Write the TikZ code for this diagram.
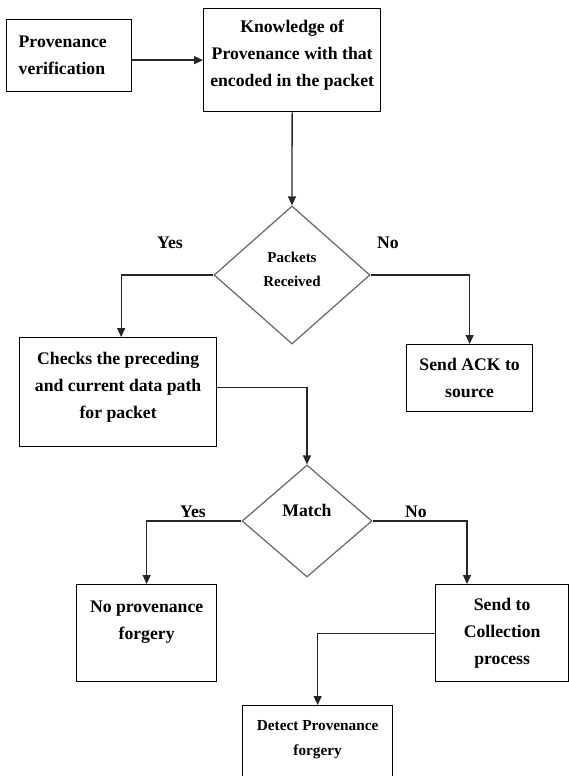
\documentclass[tikz,border=0pt]{standalone}
\usepackage{fontspec}
\setmainfont{Liberation Serif}
\usetikzlibrary{shapes.geometric,arrows.meta}
\tikzset{
  box/.style={draw, line width=1.3pt, inner sep=0pt, align=center, font=\bfseries\fontsize{17.7}{27}\selectfont},
  decision/.style={diamond, draw=black!60, line width=1.2pt, inner sep=0pt, align=center},
  flow/.style={-{Triangle[length=9pt,width=8pt]}, line width=1.3pt, draw=black!85},
  answer/.style={font=\bfseries\fontsize{17.7}{27}\selectfont, inner sep=0pt}
}
\begin{document}
\begin{tikzpicture}[x=1pt,y=-1pt]
\useasboundingbox (0,0) rectangle (569,776);
\clip (0,0) rectangle (569,776);
% boxes and decisions
\node[box, anchor=north west, align=left, text width=101pt, inner xsep=12pt, minimum height=72pt] (verif) at (6,19) {Provenance\\verification};
\node[box, anchor=north west, minimum width=177pt, text height=78pt, text depth=25pt] (know) at (203,8) {Knowledge of\\Provenance with that\\encoded in the packet};
\node[decision, minimum width=156pt, minimum height=138pt, font=\bfseries\fontsize{15}{24}\selectfont, text height=34pt, text depth=11pt] (pkt) at (292,275) {Packets\\Received};
\node[box, anchor=north west, minimum width=197pt, text height=81pt, text depth=28pt] (checks) at (19,337) {Checks the preceding\\and current data path\\for packet};
\node[box, anchor=north west, minimum width=126pt, minimum height=67pt] (ack) at (406,344) {Send ACK to\\source};
\node[decision, minimum width=130pt, minimum height=112pt, font=\bfseries\fontsize{17.7}{27}\selectfont, text height=12pt, text depth=22pt] (match) at (307,521) {Match};
\node[box, anchor=north west, minimum width=140pt, text height=55pt, text depth=42pt] (nof) at (76,584) {No provenance\\forgery};
\node[box, anchor=north west, minimum width=133pt, minimum height=97pt] (coll) at (435,584) {Send to\\Collection\\process};
\node[box, anchor=north west, minimum width=150pt, text height=50pt, text depth=35pt, font=\bfseries\fontsize{15.3}{25}\selectfont] (detect) at (242,705) {Detect Provenance\\forgery};
% answers
\node[answer] (yes1) at (170,243) {Yes};
\node[answer] (no1) at (388,243) {No};
\node[answer] (yes2) at (193,512) {Yes};
\node[answer] (no2) at (416,512) {No};
% connectors
\draw[flow] (verif.east |- know.west) -- (know.west);
\draw[flow] (know.south) -- (pkt.north);
\draw[flow] (pkt.west) -| ([xshift=3pt]checks.north);
\draw[flow] (pkt.east) -| (ack.north);
\draw[flow] ([yshift=5pt]checks.east) -| (match.north);
\draw[flow] (match.west) -| (nof.north);
\draw[flow] (match.east) -| ([xshift=32pt]coll.north west);
\draw[flow] (coll.west) -| (detect.north);
\end{tikzpicture}
\end{document}
